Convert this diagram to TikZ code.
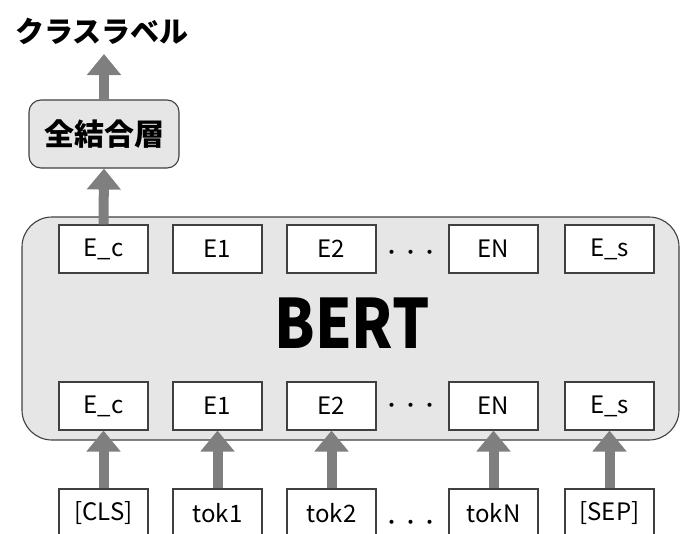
\documentclass[tikz,border=0pt]{standalone}
\usepackage{fontspec}
\usepackage{graphicx}
\setmainfont{Noto Sans CJK JP}
\usetikzlibrary{arrows.meta}
\definecolor{boxline}{HTML}{404040}
\definecolor{bertfill}{HTML}{E6E6E6}
\definecolor{arrowgray}{HTML}{7F7F7F}
\newcommand{\mydots}{\raisebox{-7pt}[0pt][0pt]{・・・}}
\tikzset{
  ebox/.style={draw=boxline, line width=1.1pt, fill=white, minimum width=89pt, minimum height=48pt, inner sep=0pt, font=\fontsize{24}{28}\selectfont},
  bigarrow/.style={draw=arrowgray, line width=10pt, -{Triangle[width=33pt,length=21pt]}, shorten >=0pt},
  dotstxt/.style={inner sep=0pt, font=\fontsize{19}{23}\selectfont},
}
\begin{document}
\begin{tikzpicture}[x=1pt,y=-1pt]
\useasboundingbox (0,0) rectangle (680,533);
\clip (0,0) rectangle (680,533);
% label
\node[inner sep=0pt, font=\fontsize{29}{34}\selectfont\bfseries] (label) at (102,31) {クラスラベル};
\coordinate (labtip) at (104,54);
% FC box
\node[draw=boxline, line width=1.1pt, fill=bertfill, rounded corners=12pt, minimum width=150pt, minimum height=68pt, inner sep=0pt, font=\fontsize{30}{36}\selectfont\bfseries] (fc) at (104,134) {全結合層};
% BERT box
\node[draw=boxline, line width=1.1pt, fill=bertfill, rounded corners=30pt, minimum width=657pt, minimum height=223pt, inner sep=0pt] (bert) at (350.5,328.5) {};
\node[inner sep=0pt, font=\fontsize{68}{80}\selectfont\bfseries] (berttxt) at (352,323) {\scalebox{0.86}[1]{BERT}};
% top row
\node[ebox] (tc) at (103.5,249) {E\_c};
\node[ebox] (t1) at (217.5,249) {E1};
\node[ebox] (t2) at (331.5,249) {E2};
\node[dotstxt] (tdots) at (411,252) {\mydots};
\node[ebox] (tn) at (493.5,249) {EN};
\node[ebox] (ts) at (609.5,249) {E\_s};
% bottom row
\node[ebox] (bc) at (103.5,406) {E\_c};
\node[ebox] (b1) at (217.5,406) {E1};
\node[ebox] (b2) at (331.5,406) {E2};
\node[dotstxt] (bdots) at (411,405) {\mydots};
\node[ebox] (bn) at (493.5,406) {EN};
\node[ebox] (bs) at (609.5,406) {E\_s};
% tokens
\node[ebox] (kc) at (103.5,513) {[CLS]};
\node[ebox] (k1) at (217.5,513) {tok1};
\node[ebox] (k2) at (331.5,513) {tok2};
\node[dotstxt] (kdots) at (411,522) {\mydots};
\node[ebox] (kn) at (493.5,513) {tokN};
\node[ebox] (ks) at (609.5,513) {[SEP]};
% arrows
\draw[bigarrow] (fc.north) -- (labtip);
\draw[bigarrow] (tc.north) -- (fc.south);
\draw[bigarrow] (kc.north) -- (bc.south);
\draw[bigarrow] (k1.north) -- (b1.south);
\draw[bigarrow] (k2.north) -- (b2.south);
\draw[bigarrow] (kn.north) -- (bn.south);
\draw[bigarrow] (ks.north) -- (bs.south);
\end{tikzpicture}
\end{document}
